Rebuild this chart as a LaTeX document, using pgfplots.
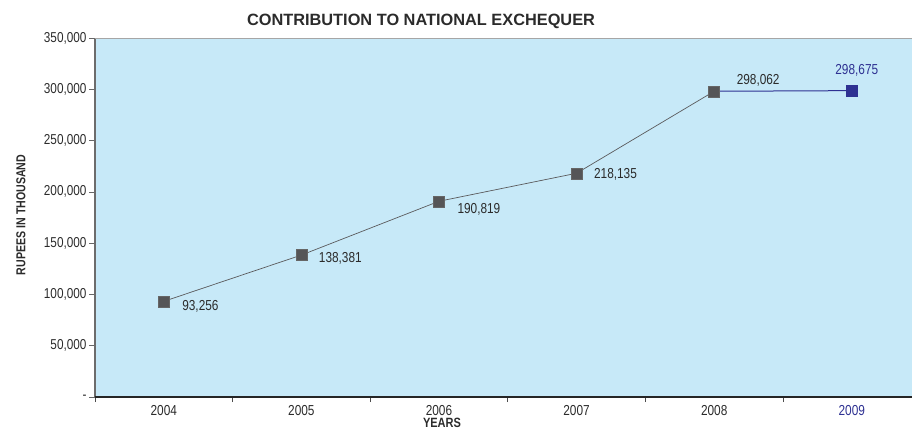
\documentclass[border=0pt]{standalone}
\usepackage{fontspec}
\setmainfont{Liberation Sans}
\newfontfamily\narrow{Liberation Sans}[FakeStretch=0.82]
\usepackage{pgfplots}
\pgfplotsset{compat=1.18}
\definecolor{bgblue}{HTML}{C7E9F8}
\definecolor{mgray}{HTML}{555557}
\definecolor{lgray}{HTML}{5A5A5C}
\definecolor{dblue}{HTML}{2E3192}
\definecolor{txt}{HTML}{2B2B2B}
\begin{document}
\begin{tikzpicture}
\begin{axis}[
  at={(95bp,34bp)}, anchor=south west,
  width=818bp, height=359bp, scale only axis,
  xmin=-0.5, xmax=5.445, ymin=0, ymax=350000,
  clip=false,
  axis background/.style={fill=bgblue},
  axis line style={draw=none},
  tick align=outside, xtick pos=bottom, ytick pos=left,
  xtick={0,1,2,3,4,5},
  xticklabels={2004,2005,2006,2007,2008,{\color{dblue}2009}},
  major x tick style={draw=none},
  minor xtick={-0.5,0.5,1.5,2.5,3.5,4.5},
  minor x tick style={black!70, line width=0.6bp},
  minor tick length=5bp,
  ytick={0,50000,100000,150000,200000,250000,300000,350000},
  yticklabels={-,{50,000},{100,000},{150,000},{200,000},{250,000},{300,000},{350,000}},
  major y tick style={black!60, line width=0.6bp},
  major tick length=6bp,
  scaled y ticks=false,
  y tick label style={font=\narrow\fontsize{14.4}{15}\selectfont, text=txt, xshift=1bp},
  x tick label style={font=\narrow\fontsize{14.5}{15}\selectfont, text=txt, yshift=1bp},
]
\addplot[dblue, line width=1bp, forget plot] coordinates {(4,298062) (5,298675)};
\addplot[lgray, line width=0.7bp, mark=square*, mark size=5.5bp,
  mark options={fill=mgray, draw=gray!80!black, line width=0.4bp}]
  coordinates {(0,93256) (1,138381) (2,190819) (3,218135) (4,298062)};
\addplot[draw=none, mark=square*, mark size=5.5bp,
  mark options={fill=dblue, draw=dblue}] coordinates {(5,298675)};
\draw[gray!85!black, line width=1.4bp] (rel axis cs:0,0) -- (rel axis cs:0,1);
\draw[gray!70, line width=0.7bp] (rel axis cs:0,1) -- (rel axis cs:1,1);
\draw[black!85, line width=1.2bp] (rel axis cs:0,0) -- (rel axis cs:1,0);
\begin{scope}[every node/.style={font=\narrow\fontsize{14.5}{15}\selectfont, text=txt}]
\node[anchor=west, xshift=15bp, yshift=-5bp] at (axis cs:0,93256) {93,256};
\node[anchor=west, xshift=14bp, yshift=-3bp] at (axis cs:1,138381) {138,381};
\node[anchor=west, xshift=15bp, yshift=-8bp] at (axis cs:2,190819) {190,819};
\node[anchor=west, xshift=14bp, yshift=-1bp] at (axis cs:3,218135) {218,135};
\node[xshift=44bp, yshift=11bp] at (axis cs:4,298062) {298,062};
\node[text=dblue, xshift=5bp, yshift=20bp] at (axis cs:5,298675) {298,675};
\end{scope}
\end{axis}
\node[font=\bfseries\fontsize{16.4}{17}\selectfont, text=txt] at (421bp,410bp) {CONTRIBUTION TO NATIONAL EXCHEQUER};
\node[font=\narrow\bfseries\fontsize{13.5}{14}\selectfont, text=txt] at (442bp,8bp) {YEARS};
\node[font=\narrow\bfseries\fontsize{13}{14}\selectfont, text=txt, rotate=90] at (21bp,216bp) {RUPEES IN THOUSAND};
\pgfresetboundingbox
\path (0,0) rectangle (912bp,431bp);
\end{tikzpicture}
\end{document}
